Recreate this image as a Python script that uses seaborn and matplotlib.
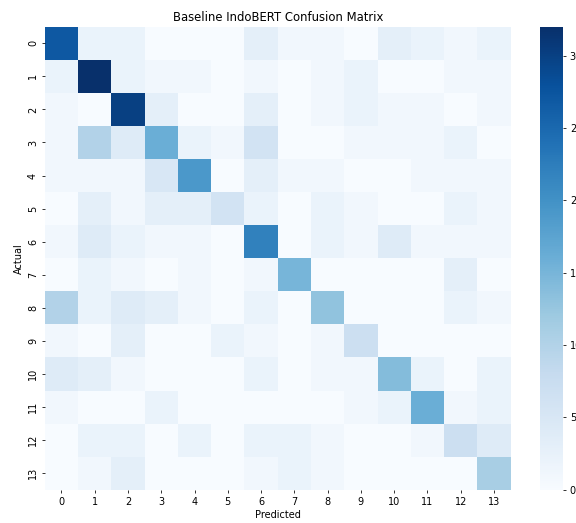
import numpy as np
import matplotlib
matplotlib.use("Agg")
import matplotlib.pyplot as plt
import seaborn as sns

labels = [str(i) for i in range(14)]

row0 = [27, 2, 2, 0, 0, 0, 3, 1, 1, 0, 3, 2, 1, 2]
row1 = [2, 32, 2, 1, 1, 0, 1, 0, 1, 2, 0, 0, 1, 1]
row2 = [1, 0, 30, 3, 0, 0, 3, 0, 1, 2, 1, 1, 0, 1]
row3 = [1, 10, 4, 16, 2, 1, 6, 0, 0, 1, 1, 1, 2, 0]
row4 = [1, 1, 1, 5, 19, 0, 3, 1, 1, 0, 0, 1, 1, 1]
row5 = [0, 3, 1, 3, 3, 6, 2, 0, 2, 1, 0, 0, 2, 1]
row6 = [1, 4, 2, 1, 1, 0, 22, 0, 2, 1, 4, 1, 1, 1]
row7 = [0, 2, 1, 0, 1, 0, 1, 15, 0, 0, 0, 0, 3, 0]
row8 = [10, 2, 4, 3, 1, 0, 2, 0, 13, 0, 0, 0, 2, 1]
row9 = [1, 0, 3, 0, 0, 2, 1, 0, 1, 7, 0, 0, 0, 0]
row10 = [4, 3, 1, 0, 0, 0, 2, 0, 1, 1, 14, 2, 0, 2]
row11 = [1, 0, 0, 2, 0, 0, 0, 0, 0, 1, 2, 16, 1, 2]
row12 = [0, 2, 2, 0, 2, 0, 2, 2, 1, 0, 0, 1, 7, 4]
row13 = [0, 1, 3, 0, 0, 0, 1, 2, 1, 0, 0, 0, 0, 11]

cm = np.array([row0, row1, row2, row3, row4, row5, row6, row7,
               row8, row9, row10, row11, row12, row13])

W, H = 576, 523
dpi = 70
fig = plt.figure(figsize=(W / dpi, H / dpi), dpi=dpi)

left, right = 44.8, 510.6
top, bottom = 26.7, 489.8
ax = fig.add_axes([left / W, 1 - bottom / H, (right - left) / W, (bottom - top) / H])
cax = fig.add_axes([540 / W, 1 - bottom / H, 23 / W, (bottom - top) / H])

sns.heatmap(cm, cmap="Blues", ax=ax, cbar_ax=cax,
            xticklabels=labels, yticklabels=labels)
ax.set_title("Baseline IndoBERT Confusion Matrix")
ax.set_xlabel("Predicted")
ax.set_ylabel("Actual")

fig.savefig("out.png", dpi=dpi)
